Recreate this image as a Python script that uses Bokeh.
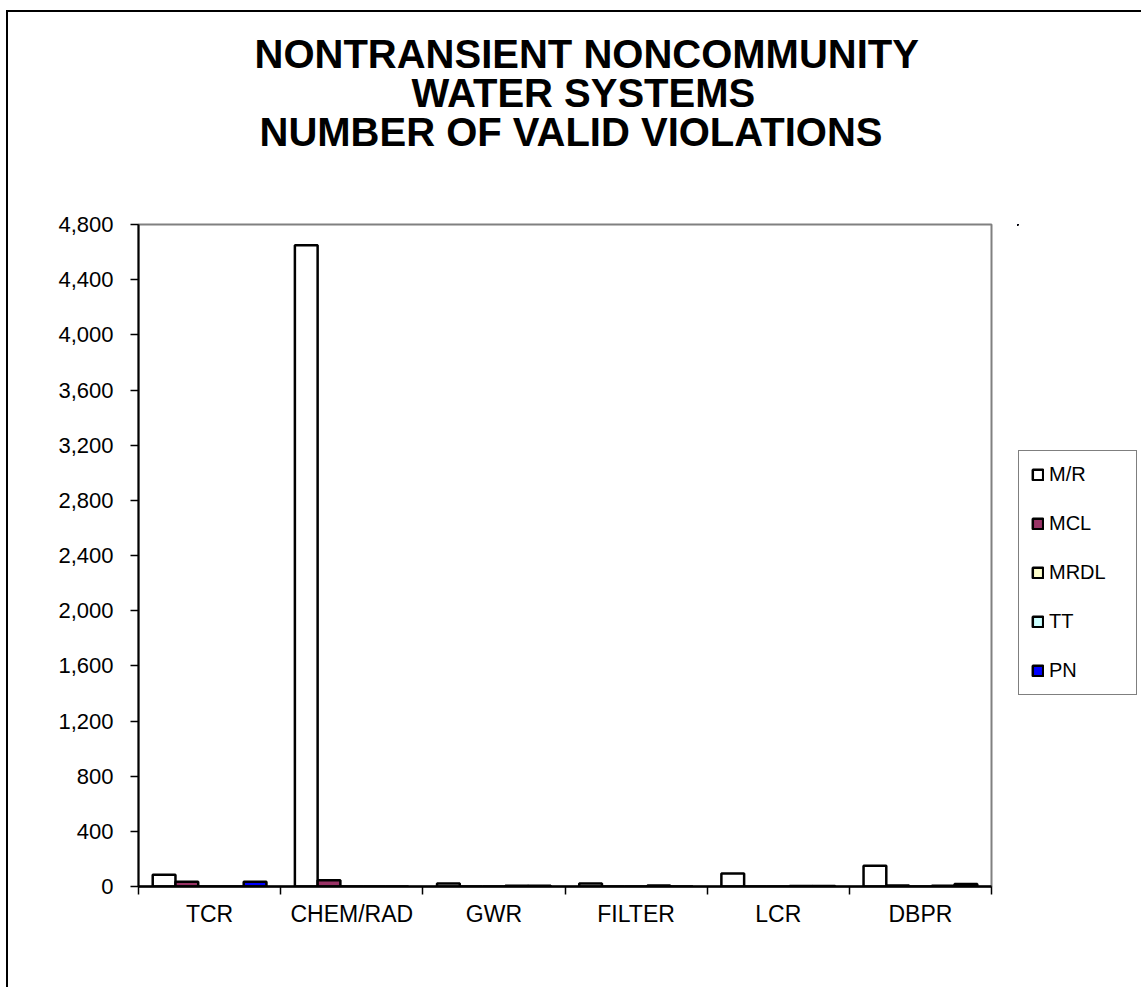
from bokeh.plotting import figure
from bokeh.layouts import row
from bokeh.models import (ColumnDataSource, Range1d, FixedTicker, NumeralTickFormatter,
                          Legend, LegendItem, Title)
from bokeh.transform import dodge
from bokeh.embed import file_html
from bokeh.resources import INLINE

categories = ["TCR", "CHEM/RAD", "GWR", "FILTER", "LCR", "DBPR"]
series = ["M/R", "MCL", "MRDL", "TT", "PN"]
mr = [85, 4650, 22, 22, 95, 150]
mcl = [35, 45, 0, 0, 0, 8]
mrdl = [0, 0, 0, 0, 0, 0]
tt = [0, 0, 5, 7, 4, 5]
pn = [35, 0, 5, 0, 4, 18]
y_ticks = [0, 400, 800, 1200, 1600, 2000, 2400, 2800, 3200, 3600, 4000, 4400, 4800]
colors = ["#FFFFFF", "#993366", "#FFFFCC", "#CCFFFF", "#0000FF"]
title_lines = ["NONTRANSIENT NONCOMMUNITY", "WATER SYSTEMS", "NUMBER OF VALID VIOLATIONS"]

values = [mr, mcl, mrdl, tt, pn]
FONT = "Liberation Sans"

centers = [i + 0.5 for i in range(len(categories))]
bounds = [i for i in range(len(categories) + 1)]
bar_w = 0.16
offsets = [(k - 2) * bar_w for k in range(len(series))]

H = 975
p = figure(width=1009, height=H, output_backend="svg", toolbar_location=None,
           x_range=Range1d(0, len(categories)), y_range=Range1d(0, 4800),
           min_border_left=130, min_border_right=26, min_border_top=212,
           min_border_bottom=101)
p.background_fill_color = "white"
p.border_fill_color = "white"
p.outline_line_color = "#808080"
p.outline_line_width = 2
p.xgrid.visible = False
p.ygrid.visible = False


def style_title(t, off):
    t.align = "left"
    t.offset = off
    t.text_font = FONT
    t.text_font_style = "bold"
    t.text_font_size = "40px"
    t.text_color = "black"
    t.standoff = -7


# p.title is outermost; titles added later stack outward from the frame
p.title.text = title_lines[0]
style_title(p.title, 116)
spacer = Title(text=" ", text_font_size="2px", standoff=70)
p.add_layout(spacer, "above")
t3 = Title(text=title_lines[2])
style_title(t3, 121)
p.add_layout(t3, "above")
t2 = Title(text=title_lines[1])
style_title(t2, 273)
p.add_layout(t2, "above")

sources = []
for k, name in enumerate(series):
    src = ColumnDataSource(dict(x=centers, top=values[k]))
    sources.append(src)
    p.vbar(x=dodge("x", offsets[k]), top="top", bottom=0, width=bar_w,
           source=src, fill_color=colors[k], line_color="black", line_width=2.5)

# y axis
p.yaxis.ticker = FixedTicker(ticks=y_ticks)
p.yaxis.formatter = NumeralTickFormatter(format="0,0")
p.yaxis.minor_tick_line_color = None
p.yaxis.major_tick_out = 8
p.yaxis.major_tick_in = 0
p.yaxis.major_tick_line_color = "black"
p.yaxis.major_tick_line_width = 1.5
p.yaxis.axis_line_color = "black"
p.yaxis.axis_line_width = 2
p.yaxis.major_label_text_font = FONT
p.yaxis.major_label_text_font_size = "22px"
p.yaxis.major_label_text_color = "black"
p.yaxis.major_label_standoff = 17

# x axis
p.xaxis.ticker = FixedTicker(ticks=centers, minor_ticks=bounds)
p.xaxis.major_label_overrides = {c: name for c, name in zip(centers, categories)}
p.xaxis.major_tick_line_color = None
p.xaxis.major_tick_out = 8
p.xaxis.major_tick_in = 0
p.xaxis.minor_tick_out = 8
p.xaxis.minor_tick_in = 0
p.xaxis.minor_tick_line_color = "black"
p.xaxis.minor_tick_line_width = 1.5
p.xaxis.axis_line_color = "black"
p.xaxis.axis_line_width = 2.5
p.xaxis.major_label_text_font = FONT
p.xaxis.major_label_text_font_size = "23px"
p.xaxis.major_label_text_color = "black"
p.xaxis.major_label_standoff = 6

# legend panel: same series glyph styles, legend drawn inside its own frame
pl = figure(width=124, height=H, output_backend="svg", toolbar_location=None,
            x_range=Range1d(100, 101), y_range=Range1d(-2, -1),
            x_axis_location=None, y_axis_location=None, min_border=0)
pl.title.visible = False
pl.outline_line_color = None
pl.xgrid.visible = False
pl.ygrid.visible = False
pl.background_fill_color = "white"
pl.border_fill_color = "white"
items = []
for k, name in enumerate(series):
    r = pl.vbar(x=dodge("x", offsets[k]), top="top", bottom=0, width=bar_w,
                source=sources[k], fill_color=colors[k], line_color="black",
                line_width=2.5)
    items.append(LegendItem(label=name, renderers=[r]))

legend = Legend(items=items, location=(1, 191), margin=0,
                label_text_font=FONT, label_text_font_size="20px",
                label_text_color="black", glyph_width=13, glyph_height=13,
                label_standoff=5, spacing=26, padding=12, label_width=75,
                border_line_color="black", border_line_width=1,
                background_fill_color="white", background_fill_alpha=1)
pl.add_layout(legend, "center")

layout = row(p, pl)
layout.styles = {"margin-left": "6px", "margin-top": "10px",
                 "border-left": "2px solid black", "border-top": "2px solid black"}

open("out.html", "w").write(file_html(layout, INLINE))
